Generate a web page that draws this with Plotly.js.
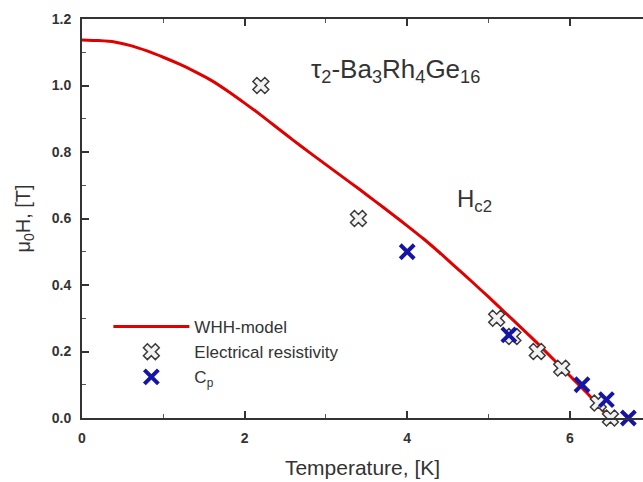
<!DOCTYPE html>
<html>
<head>
<meta charset="utf-8">
<script src="https://cdn.plot.ly/plotly-3.0.1.min.js"></script>
<style>html,body{margin:0;padding:0;background:#fff;}#chart{width:643px;height:482px;}</style>
</head>
<body>
<div id="chart"></div>
<script>
// WHH-model curve
const whhT = [0, 0.2, 0.4, 0.6, 0.8, 1.0, 1.2, 1.4, 1.6, 1.8, 2.0, 2.2, 2.4, 2.6, 2.8, 3.0, 3.2, 3.4, 3.6, 3.8, 4.0, 4.2, 4.4, 4.6, 4.8, 5.0, 5.2, 5.4, 5.6, 5.8, 6.0, 6.2, 6.4, 6.48];
const whhH = [1.137, 1.135, 1.131, 1.12, 1.104, 1.085, 1.064, 1.04, 1.014, 0.982, 0.947, 0.911, 0.873, 0.835, 0.798, 0.762, 0.726, 0.69, 0.653, 0.616, 0.578, 0.539, 0.497, 0.453, 0.409, 0.364, 0.318, 0.272, 0.225, 0.176, 0.127, 0.078, 0.024, 0.0];

// Electrical resistivity points
const resT = [2.2, 3.4, 5.1, 5.3, 5.6, 5.9, 6.35, 6.5];
const resH = [1.0, 0.6, 0.3, 0.245, 0.2, 0.15, 0.045, 0.0];

// Specific heat (Cp) points
const cpT = [4.0, 5.25, 6.15, 6.45, 6.72];
const cpH = [0.5, 0.25, 0.1, 0.055, 0.0];

const axisColor = '#333333';
const fontFam = '"Liberation Sans", Arial, sans-serif';

const traces = [
  {
    x: whhT, y: whhH, type: 'scatter', mode: 'lines', name: 'WHH-model',
    line: {color: '#e00000', width: 3, shape: 'spline', smoothing: 0.6},
    cliponaxis: false
  },
  {
    x: resT, y: resH, type: 'scatter', mode: 'markers', name: 'Electrical resistivity',
    marker: {symbol: 'x', size: 14, color: '#f2f2f2', line: {color: '#3a3a3a', width: 1.5}},
    cliponaxis: false
  },
  {
    x: cpT, y: cpH, type: 'scatter', mode: 'markers', name: 'C<sub>p</sub>',
    marker: {symbol: 'x-thin', size: 14, color: '#1515a5', line: {color: '#1515a5', width: 4}},
    cliponaxis: false
  }
];

const layout = {
  width: 643, height: 482,
  margin: {l: 82, r: 0, t: 19, b: 64},
  paper_bgcolor: '#ffffff', plot_bgcolor: '#ffffff',
  font: {family: fontFam, color: axisColor},
  showlegend: true,
  legend: {
    x: 0.047, y: 0.273, xanchor: 'left', yanchor: 'top',
    bgcolor: 'rgba(0,0,0,0)', borderwidth: 0,
    font: {family: fontFam, size: 17, color: '#333333'},
    itemwidth: 76, tracegroupgap: 0
  },
  xaxis: {
    range: [0, 6.9], showgrid: false, zeroline: false,
    showline: true, linecolor: axisColor, linewidth: 2, mirror: 'ticks',
    ticks: 'inside', ticklen: 7, tickwidth: 2, tickcolor: axisColor,
    tickvals: [0, 2, 4, 6], ticktext: ['0', '2', '4', '6'],
    minor: {tickvals: [1, 3, 5], ticks: 'inside', ticklen: 4, tickwidth: 1, tickcolor: '#555'},
    tickfont: {family: fontFam, size: 14, color: axisColor, weight: 'bold'},
    ticklabelstandoff: 6,
    title: {text: 'Temperature, [K]', font: {family: fontFam, size: 21, color: '#333333'}, standoff: 16}
  },
  yaxis: {
    range: [0, 1.2], showgrid: false, zeroline: false,
    showline: true, linecolor: axisColor, linewidth: 2, mirror: false,
    ticks: 'inside', ticklen: 7, tickwidth: 2, tickcolor: axisColor,
    tickvals: [0, 0.2, 0.4, 0.6, 0.8, 1.0, 1.2], ticktext: ['0.0', '0.2', '0.4', '0.6', '0.8', '1.0', '1.2'],
    minor: {tickvals: [0.1, 0.3, 0.5, 0.7, 0.9, 1.1], ticks: 'inside', ticklen: 4, tickwidth: 1, tickcolor: '#555'},
    tickfont: {family: fontFam, size: 14, color: axisColor, weight: 'bold'},
    ticklabelstandoff: 6,
    title: {text: 'μ<sub>0</sub>H, [T]', font: {family: fontFam, size: 20, color: '#333333'}, standoff: 16}
  },
  annotations: [
    {
      xref: 'paper', yref: 'paper', x: 0.558, y: 0.872, xanchor: 'center', yanchor: 'middle',
      text: 'τ<sub>2</sub>-Ba<sub>3</sub>Rh<sub>4</sub>Ge<sub>16</sub>', showarrow: false,
      font: {family: fontFam, size: 26, color: '#333333'}
    },
    {
      xref: 'paper', yref: 'paper', x: 0.70, y: 0.545, xanchor: 'center', yanchor: 'middle',
      text: 'H<sub>c2</sub>', showarrow: false,
      font: {family: fontFam, size: 24, color: '#333333'}
    }
  ]
};

Plotly.newPlot('chart', traces, layout, {displayModeBar: false, staticPlot: true});
</script>
</body>
</html>
